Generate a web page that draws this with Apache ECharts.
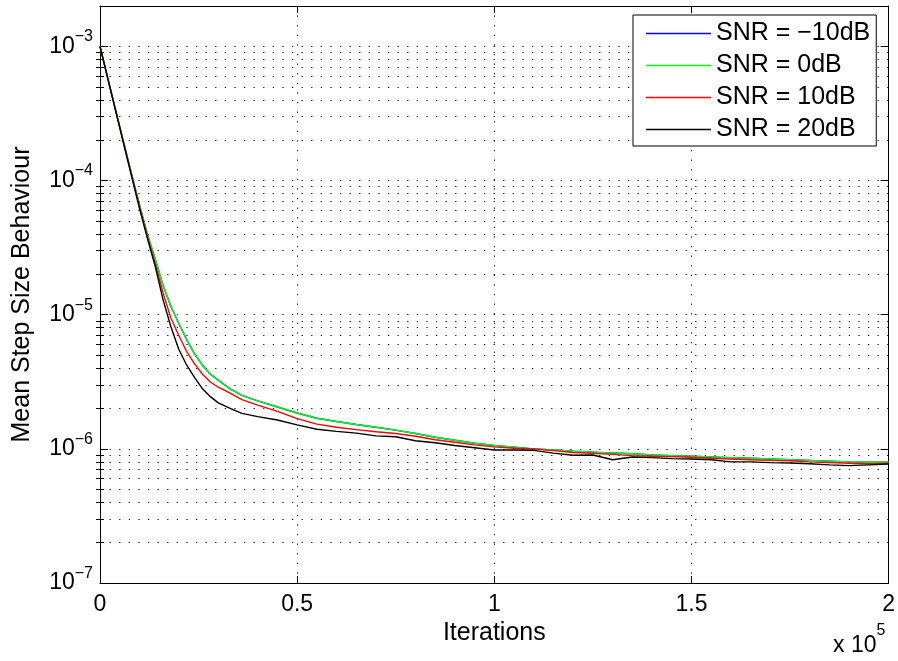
<!DOCTYPE html>
<html><head><meta charset="utf-8">
<script src="https://cdn.jsdelivr.net/npm/echarts@6/dist/echarts.min.js"></script>
<style>html,body{margin:0;padding:0;background:#fff}#c{width:898px;height:661px}</style>
</head><body><div id="c"></div>
<script>
const iterations = [0,2000,4000,6000,8000,10000,12000,14000,16000,18000,20000,22000,24000,26000,28000,30000,33000,36000,40000,45000,50000,55000,60000,65000,70000,75000,80000,85000,90000,95000,100000,105000,110000,115000,120000,125000,130000,135000,140000,145000,150000,155000,160000,165000,170000,175000,180000,185000,190000,195000,200000];
const snrM10 = [1.0e-3,5.75e-4,3.32e-4,1.92e-4,1.12e-4,6.6e-5,4.0e-5,2.6e-5,1.65e-5,1.15e-5,8.6e-6,6.5e-6,5.1e-6,4.2e-6,3.6e-6,3.25e-6,2.8e-6,2.5e-6,2.28e-6,2.05e-6,1.85e-6,1.69e-6,1.6e-6,1.52e-6,1.45e-6,1.38e-6,1.3e-6,1.22e-6,1.16e-6,1.1e-6,1.06e-6,1.03e-6,1.0e-6,9.8e-7,9.6e-7,9.45e-7,9.3e-7,9.2e-7,9.0e-7,8.9e-7,8.8e-7,8.7e-7,8.6e-7,8.5e-7,8.4e-7,8.3e-7,8.2e-7,8.1e-7,8.0e-7,7.95e-7,7.95e-7];
const snr0 = [1.0e-3,5.75e-4,3.32e-4,1.92e-4,1.12e-4,6.6e-5,4.0e-5,2.6e-5,1.65e-5,1.15e-5,8.6e-6,6.5e-6,5.1e-6,4.2e-6,3.6e-6,3.25e-6,2.8e-6,2.5e-6,2.28e-6,2.05e-6,1.85e-6,1.69e-6,1.6e-6,1.52e-6,1.45e-6,1.38e-6,1.3e-6,1.22e-6,1.16e-6,1.1e-6,1.06e-6,1.03e-6,1.0e-6,9.8e-7,9.6e-7,9.45e-7,9.3e-7,9.2e-7,9.0e-7,8.9e-7,8.8e-7,8.7e-7,8.6e-7,8.5e-7,8.4e-7,8.3e-7,8.2e-7,8.1e-7,8.0e-7,7.95e-7,7.95e-7];
const snr10 = [1.0e-3,5.73e-4,3.3e-4,1.9e-4,1.1e-4,6.4e-5,3.85e-5,2.4e-5,1.45e-5,9.4e-6,7.0e-6,5.3e-6,4.3e-6,3.6e-6,3.15e-6,2.88e-6,2.6e-6,2.33e-6,2.12e-6,1.9e-6,1.68e-6,1.53e-6,1.45e-6,1.39e-6,1.34e-6,1.30e-6,1.24e-6,1.17e-6,1.12e-6,1.07e-6,1.035e-6,1.01e-6,1.0e-6,9.7e-7,9.4e-7,9.25e-7,9.1e-7,8.9e-7,8.8e-7,8.75e-7,8.65e-7,8.5e-7,8.4e-7,8.3e-7,8.2e-7,8.15e-7,8.0e-7,7.9e-7,7.8e-7,7.75e-7,7.8e-7];
const snr20 = [1.0e-3,5.73e-4,3.28e-4,1.88e-4,1.08e-4,6.24e-5,3.72e-5,2.29e-5,1.29e-5,8.1e-6,5.5e-6,4.2e-6,3.4e-6,2.8e-6,2.45e-6,2.2e-6,2.0e-6,1.84e-6,1.74e-6,1.64e-6,1.51e-6,1.40e-6,1.35e-6,1.31e-6,1.25e-6,1.23e-6,1.15e-6,1.11e-6,1.06e-6,1.02e-6,9.8e-7,9.8e-7,9.75e-7,9.3e-7,8.95e-7,9.0e-7,8.3e-7,8.7e-7,8.6e-7,8.45e-7,8.4e-7,8.3e-7,8.0e-7,8.0e-7,7.9e-7,7.85e-7,7.75e-7,7.6e-7,7.5e-7,7.6e-7,7.7e-7];
const seriesNames = ['SNR = \u221210dB','SNR = 0dB','SNR = 10dB','SNR = 20dB'];
const seriesColors = ['#0000ff','#00ff00','#ff0000','#000000'];
const yMajorTicks = [1e-7,1e-6,1e-5,1e-4,1e-3];
const yMinorTicks = [2e-7,3e-7,4e-7,5e-7,6e-7,7e-7,8e-7,9e-7,2e-6,3e-6,4e-6,5e-6,6e-6,7e-6,8e-6,9e-6,2e-5,3e-5,4e-5,5e-5,6e-5,7e-5,8e-5,9e-5,2e-4,3e-4,4e-4,5e-4,6e-4,7e-4,8e-4,9e-4];
const xMin = 0, xMax = 200000, xStep = 50000, xScale = 1e5;
const yMin = 1e-7, yMax = 2e-3;

const FONT = "'Liberation Sans', Arial, Helvetica, sans-serif";
const dotted = {color:'#000', width:1, type:[1.2, 8.4]};
const axisLine = {show:true, onZero:false, lineStyle:{color:'#000', width:1}};
const chart = echarts.init(document.getElementById('c'), null, {renderer:'canvas'});

const seriesData = [snrM10, snr0, snr10, snr20];
const series = seriesData.map((arr, i) => ({
  name: seriesNames[i], type:'line', xAxisIndex:0, yAxisIndex:0,
  data: iterations.map((x, j) => [x, arr[j]]),
  symbol:'none', smooth:false,
  lineStyle:{color:seriesColors[i], width:1.4},
  itemStyle:{color:seriesColors[i]},
  z: 3 + i
}));

function yLabel(v){
  const e = Math.round(Math.log10(v));
  return '{b|10}{s|' + (e < 0 ? '\u2212' : '') + Math.abs(e) + '}';
}
const yRich = {
  b:{fontSize:23, fontFamily:FONT, color:'#000'},
  s:{fontSize:16, fontFamily:FONT, color:'#000', padding:[0,0,19,0]}
};
function logAxis(pos, ticks, len, opts){
  return Object.assign({
    type:'log', logBase:10, position:pos, min:yMin, max:yMax,
    axisLine: axisLine,
    axisTick:{show:true, inside:true, length:len, customValues:ticks, lineStyle:{color:'#000', width:1}},
    axisLabel:{show:false},
    splitLine:{show:false}
  }, opts || {});
}

chart.setOption({
  animation:false,
  backgroundColor:'#fff',
  grid:{left:100, right:7, top:6, bottom:78, containLabel:false},
  legend:{
    data: seriesNames, orient:'vertical', left:633, top:15,
    icon:'rect', itemWidth:65, itemHeight:1.4, itemGap:7,
    padding:[6, 6, 4, 13],
    backgroundColor:'#fff', borderColor:'#000', borderWidth:1, borderRadius:0,
    textStyle:{fontSize:25, lineHeight:25, color:'#000', fontFamily:FONT},
    selectedMode:false
  },
  xAxis:[
    {type:'value', position:'bottom', min:xMin, max:xMax, interval:xStep,
     axisLine:axisLine,
     axisTick:{show:true, inside:true, length:7, lineStyle:{color:'#000'}},
     axisLabel:{formatter:v => String(v / xScale), fontSize:23, color:'#000', margin:10, fontFamily:FONT},
     splitLine:{show:true, lineStyle:dotted},
     name:'Iterations', nameLocation:'middle', nameGap:38,
     nameTextStyle:{fontSize:25, color:'#000', fontFamily:FONT}},
    {type:'value', position:'top', min:xMin, max:xMax, interval:xStep,
     axisLine:axisLine,
     axisTick:{show:true, inside:true, length:7, lineStyle:{color:'#000'}},
     axisLabel:{show:false}, splitLine:{show:false}}
  ],
  yAxis:[
    logAxis('left', yMajorTicks, 8, {
      axisLabel:{show:true, customValues:yMajorTicks, formatter:yLabel, rich:yRich, margin:7},
      splitLine:{show:true, lineStyle:dotted},
      name:'Mean Step Size Behaviour', nameLocation:'middle', nameGap:65,
      nameTextStyle:{fontSize:25, color:'#000', fontFamily:FONT}
    }),
    logAxis('right', yMajorTicks, 8),
    logAxis('left', yMinorTicks, 4, {axisLine:{show:false}, splitLine:{show:true, lineStyle:dotted}}),
    logAxis('right', yMinorTicks, 4, {axisLine:{show:false}})
  ],
  graphic:[{
    type:'text', left:833, top:623,
    style:{text:'{a|x 10}{b|5}', rich:{
      a:{fontSize:23, fontFamily:FONT, fill:'#000', color:'#000'},
      b:{fontSize:16, fontFamily:FONT, fill:'#000', color:'#000', padding:[0,0,30,0]}
    }}
  }],
  series: series
});
</script></body></html>
